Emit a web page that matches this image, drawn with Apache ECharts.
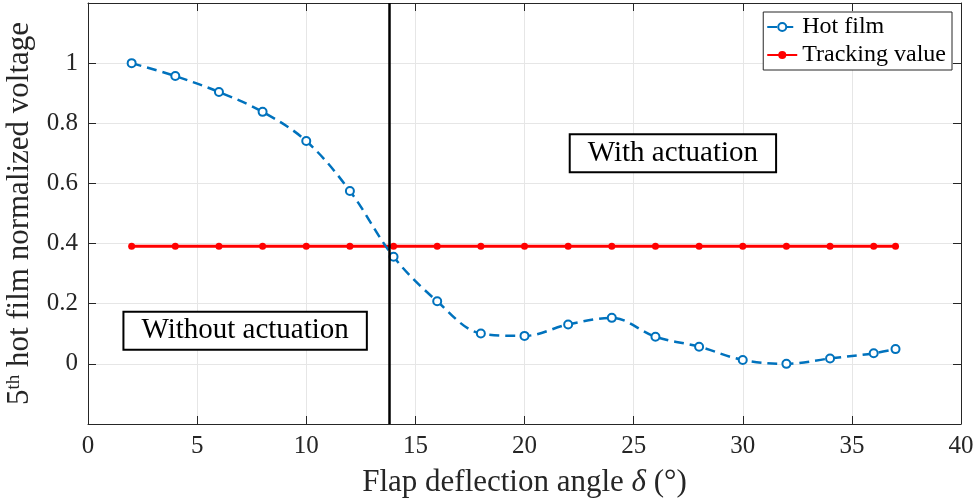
<!DOCTYPE html>
<html>
<head>
<meta charset="utf-8">
<script src="https://cdn.jsdelivr.net/npm/echarts@6/dist/echarts.min.js"></script>
<style>
html,body{margin:0;padding:0;background:#fff;}
#chart{width:976px;height:502px;}
</style>
</head>
<body>
<div id="chart"></div>
<script>
// ---- data ----
const angles = [2, 4, 6, 8, 10, 12, 14, 16, 18, 20, 22, 24, 26, 28, 30, 32, 34, 36, 37];
const hotFilm = [1.0, 0.957, 0.904, 0.838, 0.741, 0.575, 0.356, 0.208, 0.101, 0.093, 0.131, 0.153, 0.090, 0.057, 0.013, 0.0, 0.018, 0.035, 0.049];
const trackingValue = [0.391, 0.391, 0.391, 0.391, 0.391, 0.391, 0.391, 0.391, 0.391, 0.391, 0.391, 0.391, 0.391, 0.391, 0.391, 0.391, 0.391, 0.391, 0.391];
const switchAngle = 13.8;
const annotationText = ['Without actuation', 'With actuation'];
const annotationX = [7.2, 26.8];
const annotationY = [0.11, 0.70];
const seriesNames = ['Hot film', 'Tracking value'];

const FONT = '"Liberation Serif", "Times New Roman", serif';
const AX = '#262626';

const chart = echarts.init(document.getElementById('chart'), null, {renderer: 'canvas'});

function pairs(xs, ys) { return xs.map((x, i) => [x, ys[i]]); }

const axisCommon = {
  axisLine: {show: true, onZero: false, lineStyle: {color: AX, width: 1}},
  axisTick: {show: true, inside: true, length: 8, lineStyle: {color: AX, width: 1}},
};

const option = {
  backgroundColor: '#fff',
  animation: false,
  grid: {left: 88, right: 15, top: 3, bottom: 78, containLabel: false, outerBoundsMode: 'none'},
  legend: {
    orient: 'vertical', right: 24, top: 12,
    padding: [3, 6, 3, 3], itemGap: 4, itemWidth: 30, itemHeight: 10,
    borderColor: '#262626', borderWidth: 1, backgroundColor: '#fff',
    textStyle: {fontFamily: FONT, fontSize: 24, color: '#000'},
    data: seriesNames
  },
  xAxis: [{
    type: 'value', min: 0, max: 40, interval: 5, position: 'bottom',
    ...axisCommon,
    splitLine: {show: true, lineStyle: {color: '#e6e6e6', width: 1}},
    axisLabel: {fontFamily: FONT, fontSize: 25, color: AX, margin: 10},
    name: '{r|Flap deflection angle }{i|δ}{r| (°)}',
    nameLocation: 'middle', nameGap: 43,
    nameTextStyle: {
      rich: {
        r: {fontFamily: FONT, fontSize: 31, color: AX},
        i: {fontFamily: FONT, fontSize: 31, color: AX, fontStyle: 'italic'}
      }
    }
  }, {
    type: 'value', min: 0, max: 40, interval: 5, position: 'top',
    ...axisCommon,
    splitLine: {show: false}, axisLabel: {show: false}
  }],
  yAxis: [{
    type: 'value', min: -0.2, max: 1.2, interval: 0.2, position: 'left',
    ...axisCommon,
    splitLine: {show: true, lineStyle: {color: '#e6e6e6', width: 1}},
    axisLabel: {
      fontFamily: FONT, fontSize: 25, color: AX, margin: 10,
      formatter: v => (v < -0.1 || v > 1.1) ? '' : String(+v.toFixed(1))
    },
    name: '{r|5}{s|th}{r| hot film normalized voltage}',
    nameLocation: 'middle', nameGap: 46, nameRotate: 90,
    nameTextStyle: {
      rich: {
        r: {fontFamily: FONT, fontSize: 31, color: AX, lineHeight: 32},
        s: {fontFamily: FONT, fontSize: 19, color: AX, lineHeight: 19, verticalAlign: 'top'}
      }
    }
  }, {
    type: 'value', min: -0.2, max: 1.2, interval: 0.2, position: 'right',
    ...axisCommon,
    splitLine: {show: false}, axisLabel: {show: false}
  }],
  series: [{
    name: seriesNames[0], type: 'line',
    data: pairs(angles, hotFilm),
    smooth: 0.35,
    symbol: 'emptyCircle', symbolSize: 8,
    lineStyle: {color: '#0072BD', width: 2.5, type: [10, 6]},
    itemStyle: {color: '#0072BD', borderWidth: 2.2},
    z: 3,
    markLine: {
      silent: true, symbol: ['none', 'none'],
      label: {show: false},
      lineStyle: {color: '#000', width: 2.5, type: 'solid'},
      data: [{xAxis: switchAngle}],
      z: 5
    }
  }, {
    name: seriesNames[1], type: 'line',
    data: pairs(angles, trackingValue),
    symbol: 'circle', symbolSize: 7,
    lineStyle: {color: '#FF0000', width: 3},
    itemStyle: {color: '#FF0000'},
    z: 2,
    markPoint: {
      silent: true, symbol: 'rect', symbolSize: 0,
      data: annotationText.map((t, i) => ({name: t, coord: [annotationX[i], annotationY[i]]})),
      label: {
        show: true, position: 'inside', formatter: p => p.name,
        fontFamily: FONT, fontSize: 29, color: '#000',
        backgroundColor: '#fff', borderColor: '#000', borderWidth: 2,
        padding: [4, 17, 3, 17]
      }
    }
  }]
};
chart.setOption(option);
</script>
</body>
</html>
